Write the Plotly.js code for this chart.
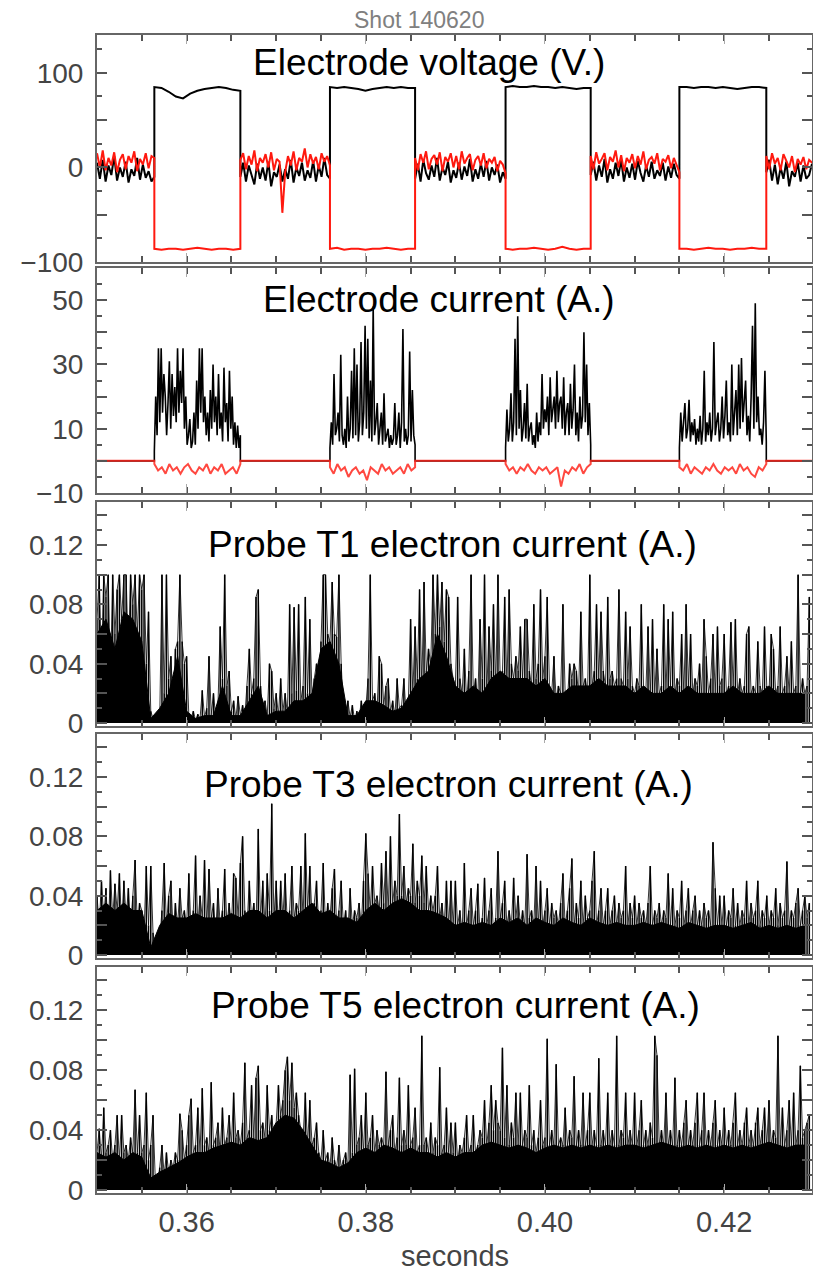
<!DOCTYPE html>
<html><head><meta charset="utf-8">
<script src="https://cdn.plot.ly/plotly-3.0.1.min.js"></script>
<style>html,body{margin:0;padding:0;background:#fff}</style>
</head><body><div id="chart" style="width:813px;height:1271px"></div>
<script>
// ---------- DATA ----------
const tStart = 0.35, tEnd = 0.4298;
const pulseStart = [0.3564, 0.3760, 0.3956, 0.4150];
const pulseEnd   = [0.3660, 0.3855, 0.4051, 0.4247];

// Panel 1: electrode voltage (V) — noise between pulses, levels during pulses
const voltBlackOff = [
 [5,-12,8,-15,2,-8,12,-14,0,-10,6,-16,-2,-9,10,-13,3,-11,-4,-15,-10],
 [-10,5,-15,2,-8,-18,4,-12,0,-14,6,-20,-5,-10,3,-15,-2,-12,8,-16,0,-9,5,-14,-3,-11,7,-15,2,-10,10,-8,-12],
 [-12,4,-15,8,-6,-13,2,-10,10,-14,0,-8,6,-16,-3,-11,5,-13,1,-9,9,-15,-2,-12,4,-10,7,-14,0,-8,3,-16,-5,-12],
 [-8,6,-14,2,-10,9,-16,-2,-12,5,-9,8,-15,0,-11,4,-13,7,-6,-15,2,-10,6,-12,-3,-9,5,-14,1,-11,4,-8,-12],
 [-5,8,-14,3,-18,0,-12,6,-20,-4,-10,5,-15,2,-12,-8,4]
];
const voltRedOff = [
 [15,0,18,-3,10,2,16,-5,8,14,-2,12,5,17,-4,9,3,15,-1,12,10],
 [8,15,-2,12,3,18,-4,10,5,14,0,16,-3,9,6,-48,-5,12,2,17,-3,10,6,20,0,14,4,11,-2,15,6,12,2],
 [10,-3,14,5,17,-2,9,13,3,16,-4,11,6,15,0,12,-2,17,4,10,14,-3,8,12,2,15,-1,9,5,11,-4,7,3,-6],
 [12,-2,16,4,9,15,-3,11,6,18,0,13,-4,10,5,14,-1,12,3,17,-2,8,11,4,15,-3,9,6,13,-1,10,2,-5],
 [12,-2,15,4,10,-3,14,6,0,12,-5,9,3,11,-2,8,5]
];
const voltBlackOn = [
 [85,84,80,75,73,78,81,83,84,85,84,82,81],
 [85,84,85,84,83,81,83,84,85,84,85,84,84],
 [85,86,85,85,86,85,85,84,85,84,83,84,84],
 [85,85,84,85,85,84,85,84,83,84,85,85,84]
];
const voltRedOn = [
 [-86,-87,-86,-86,-87,-86,-85,-86,-87,-86,-86,-87,-86],
 [-86,-85,-87,-86,-86,-87,-86,-86,-85,-86,-87,-86,-86],
 [-86,-87,-86,-86,-85,-86,-87,-86,-84,-86,-87,-86,-86],
 [-86,-86,-87,-86,-85,-86,-86,-87,-86,-86,-85,-86,-86]
];

// Panel 2: electrode current (A) during pulses; 0 outside
const currentOff = 0;
const curBlack = [
 [3,20,8,35,12,35,15,27,20,8,18,31,10,27,14,23,12,35,15,28,18,35,10,20,5,8,13,4,6,15,5,25,10,35,15,35,12,20,8,15,6,22,10,30,12,20,8,27,10,15,6,29,12,18,6,28,10,20,5,12,4,11,4,8],
 [4,12,5,27,8,10,15,6,33,8,5,10,4,20,6,10,28,7,35,8,30,6,12,37,8,15,42,10,38,7,25,6,48,8,12,18,5,10,15,5,21,6,8,10,4,8,5,7,18,5,8,15,4,12,41,6,10,5,8,34,6,22,8,5],
 [4,16,6,10,21,6,12,38,8,45,10,22,6,10,18,7,24,6,10,12,5,8,4,15,6,12,8,27,10,16,12,20,8,26,12,16,20,10,28,12,18,20,10,26,8,15,18,8,24,10,16,30,8,15,6,20,10,14,40,12,30,8,18,5],
 [4,15,6,12,18,7,10,19,6,12,8,13,5,10,6,14,5,10,28,6,12,8,15,6,10,37,8,12,15,6,10,20,7,14,25,8,12,6,30,8,14,22,8,30,10,32,12,18,25,8,14,6,20,42,10,49,12,20,8,10,5,12,28,6]
];
const curRed = [
 [-1,-3,-2,-4,-1,-3,-2,-4,-2,-1,-3,-4,-2,-3,-1,-4,-2,-3,-1,-4,-3,-2,-4,-1],
 [-2,-4,-1,-3,-2,-5,-3,-2,-4,-3,-6,-2,-3,-4,-1,-3,-2,-4,-3,-2,-4,-1,-3,-2],
 [-1,-3,-2,-4,-2,-3,-1,-3,-4,-2,-3,-2,-4,-3,-2,-8,-3,-4,-2,-3,-1,-4,-2,-1],
 [-2,-3,-1,-4,-2,-3,-4,-2,-3,-1,-3,-4,-2,-3,-2,-4,-1,-3,-2,-4,-5,-2,-3,-1]
];

// Probe electron currents (mA), sampled every 0.25 ms from 0.350 s
const probeDt = 0.00025;
const t1mA = [70,100,40,100,85,100,30,100,60,90, 100,70,100,100,45,100,80,100,60,100, 90,100,40,75,8,3,2,5,3,100, 20,100,30,45,10,50,55,100,55,40,
 45,5,3,8,2,6,3,22,4,10, 45,6,20,4,12,65,30,100,25,35, 8,15,3,18,5,12,4,25,50,20, 30,85,90,25,8,15,5,40,35,10,
 20,5,30,8,20,6,80,20,78,22, 80,15,25,85,20,70,18,30,40,25, 55,100,100,60,55,95,60,58,100,40, 10,3,15,4,12,2,8,3,15,5,
 10,30,100,15,20,8,45,40,12,25, 30,8,15,5,30,10,12,30,6,15, 70,20,65,30,90,25,95,35,50,40, 100,60,100,65,95,55,90,85,40,30,
 25,85,30,20,50,15,35,100,20,30, 15,70,30,100,20,65,35,80,25,100, 30,35,85,25,90,40,30,45,35,65, 30,70,70,35,25,80,30,40,90,30,
 45,85,25,20,45,15,25,20,80,20, 15,40,30,40,35,20,75,25,30,20, 100,25,35,80,30,75,35,25,85,30, 35,25,30,90,30,25,75,30,65,25,
 20,30,25,80,25,20,65,20,70,20, 50,20,25,80,20,70,25,75,20,30, 25,60,20,80,25,60,20,30,25,40, 20,70,45,20,30,60,20,65,25,30,
 60,20,25,68,25,70,20,30,20,25, 60,65,20,25,20,55,25,20,65,25, 20,60,50,20,25,65,20,25,45,20, 55,20,25,100,20,30,20,25,85];
const t3mA = [40,20,50,25,45,15,57,25,48,30, 55,20,50,25,45,20,40,64,20,35, 30,15,60,20,60,15,5,2,10,30, 62,20,40,50,15,35,20,45,25,30,
 20,55,15,30,67,20,40,25,64,20, 58,25,35,15,45,20,30,58,20,35, 20,55,52,25,62,80,30,20,50,25, 35,20,85,25,50,20,55,30,102,25,
 50,20,50,25,55,20,30,60,25,35, 30,60,25,82,30,60,25,35,50,20, 30,62,20,35,25,45,58,20,30,50, 20,30,15,45,20,30,25,35,20,50,
 82,55,30,60,35,40,30,62,35,70, 30,80,35,50,40,95,40,60,35,45, 40,75,35,50,40,67,35,60,30,40, 30,40,60,25,35,20,50,20,50,20,
 50,20,30,15,62,20,30,45,20,30, 48,15,25,52,20,30,45,15,25,70, 25,35,50,20,30,20,52,25,40,20, 30,20,68,25,30,20,60,20,50,20,
 30,45,20,35,25,30,20,35,55,20, 30,45,65,20,35,25,50,20,40,25, 30,50,70,20,30,45,20,30,45,20, 30,40,20,35,25,30,60,20,35,25,
 40,20,35,25,30,20,35,60,20,30, 25,35,20,30,25,55,20,45,20,30, 25,50,20,30,45,20,30,40,20,30, 20,35,25,30,20,76,45,20,40,20,
 40,20,30,25,45,20,35,20,30,25, 50,20,35,25,30,50,20,30,25,40, 20,30,25,45,20,35,25,30,63,20, 30,25,35,45,20,30,40,25,35];
const t5mA = [25,41,20,55,25,30,40,20,30,50, 20,50,25,30,20,35,25,67,25,50, 25,30,65,20,30,50,8,5,15,30, 10,25,12,20,15,25,20,51,40,20,
 30,50,61,25,30,55,25,68,30,35, 25,72,30,35,45,25,55,30,35,50, 30,65,35,40,30,45,85,35,40,70, 35,75,83,40,45,35,70,40,50,35,
 45,70,50,60,80,89,60,85,55,65, 50,40,35,65,30,60,30,35,45,25, 20,40,20,25,15,35,20,15,30,15, 20,25,15,77,25,81,30,35,50,25,
 65,30,35,50,25,40,30,35,30,79, 30,40,50,25,35,75,30,40,30,70, 30,35,55,25,30,103,30,35,25,45, 25,35,30,82,25,30,55,25,45,25,
 45,20,30,25,35,50,25,30,50,25, 30,40,35,60,30,45,70,40,60,45, 40,95,35,70,30,45,35,65,30,65, 30,40,35,70,30,40,25,35,60,30,
 35,101,30,40,30,84,30,35,30,55, 30,40,35,76,30,40,30,65,30,40, 65,30,40,30,88,30,40,30,65,30, 40,30,103,30,40,35,65,30,40,30,
 65,30,40,60,30,40,30,45,35,103, 90,30,40,30,65,30,40,30,75,30, 40,30,45,60,30,40,30,45,65,30, 40,65,30,40,30,45,60,30,40,30,
 55,30,40,30,45,65,30,40,30,45, 55,30,40,30,45,55,30,40,55,30, 60,30,40,35,103,30,55,30,40,60, 30,65,30,40,83,35,40,45,50];
// dense low-level band of each probe (mA), every 1 ms from 0.350 s
const bodyDt = 0.001;
const t1Body = [60,70,50,75,70,55,3,10,20,45, 8,3,5,5,25,5,5,15,25,5, 8,8,15,15,20,50,55,40,5,5, 15,15,12,8,10,20,30,35,60,45,
 25,20,25,20,30,35,30,30,30,25, 30,20,20,25,25,25,30,25,25,25, 20,25,20,20,25,20,25,20,20,20, 20,25,20,20,20,25,20,20,20,20];
const t3Body = [30,35,30,35,30,30,5,20,28,25, 25,28,25,25,25,28,25,30,30,25, 30,30,25,30,35,28,30,25,25,22, 30,35,30,35,38,35,30,30,28,25,
 20,22,20,22,20,25,22,25,20,25, 22,20,25,22,20,25,22,20,22,20, 20,22,20,22,20,18,22,20,18,20, 20,18,20,22,18,20,18,20,18,20];
const t5Body = [25,22,25,20,25,22,8,12,15,18, 22,25,25,28,30,32,30,35,33,35, 45,50,48,40,30,20,18,15,18,25, 28,25,30,28,25,28,25,25,22,25,
 22,25,25,30,32,30,28,30,28,25, 28,30,28,30,28,30,28,30,28,30, 30,28,30,32,30,28,30,28,30,28, 30,28,30,28,30,32,30,28,30,30];

const xTickVals = [0.36, 0.38, 0.40, 0.42];
const xTickText = ['0.36', '0.38', '0.40', '0.42'];
const titles = ['Electrode voltage (V.)', 'Electrode current (A.)', 'Probe T1 electron current (A.)',
                'Probe T3 electron current (A.)', 'Probe T5 electron current (A.)'];

// ---------- BUILD ----------
function lin(a, b, n){ const o=[]; for(let i=0;i<n;i++) o.push(n===1?a:a+(b-a)*i/(n-1)); return o; }
function voltTrace(off, on){
  const x=[], y=[];
  for(let j=0;j<5;j++){
    const s = j===0 ? tStart : pulseEnd[j-1], e = j===4 ? tEnd : pulseStart[j];
    x.push(...lin(s,e,off[j].length)); y.push(...off[j]);
    if(j<4){ x.push(...lin(pulseStart[j],pulseEnd[j],on[j].length)); y.push(...on[j]); }
  }
  return {x,y};
}
function curTrace(pulses){
  const x=[tStart], y=[currentOff];
  for(let j=0;j<4;j++){
    x.push(pulseStart[j]); y.push(currentOff);
    x.push(...lin(pulseStart[j],pulseEnd[j],pulses[j].length)); y.push(...pulses[j]);
    x.push(pulseEnd[j]); y.push(currentOff);
  }
  x.push(tEnd); y.push(currentOff);
  return {x,y};
}
function probe(arr, dt){ return {x: arr.map((v,i)=>tStart+i*dt), y: arr.map(v=>v/1000)}; }

const RED = 'rgb(255,25,15)';
const traces = [];
const vb = voltTrace(voltBlackOff, voltBlackOn), vr = voltTrace(voltRedOff, voltRedOn);
traces.push({type:'scatter',mode:'lines',x:vb.x,y:vb.y,xaxis:'x',yaxis:'y',line:{color:'#000',width:2}});
traces.push({type:'scatter',mode:'lines',x:vr.x,y:vr.y,xaxis:'x',yaxis:'y',line:{color:RED,width:2}});
const cb = curTrace(curBlack), cr = curTrace(curRed);
traces.push({type:'scatter',mode:'lines',x:cb.x,y:cb.y,xaxis:'x2',yaxis:'y2',line:{color:'#000',width:1.6}});
traces.push({type:'scatter',mode:'lines',x:cr.x,y:cr.y,xaxis:'x2',yaxis:'y2',line:{color:'rgba(255,40,30,0.85)',width:2}});
[[t1Body,t1mA,'3'],[t3Body,t3mA,'4'],[t5Body,t5mA,'5']].forEach(([b,s,k])=>{
  const pb = probe(b, bodyDt), ps = probe(s, probeDt);
  traces.push({type:'scatter',mode:'lines',x:pb.x,y:pb.y,xaxis:'x'+k,yaxis:'y'+k,fill:'tozeroy',fillcolor:'#000',line:{color:'#000',width:1}});
  traces.push({type:'bar',x:ps.x,y:ps.y,xaxis:'x'+k,yaxis:'y'+k,width:probeDt*0.68,
    marker:{color:'#000',line:{width:0}}});
  traces.push({type:'scatter',mode:'lines',x:ps.x,y:ps.y,xaxis:'x'+k,yaxis:'y'+k,line:{color:'#000',width:0.8}});
});

// ---------- LAYOUT ----------
const W=813, H=1271;
const panels = [[35,262],[268,493],[502,726],[734,958],[967,1193]];
const dom = p => [1-p[1]/H, 1-p[0]/H];
const tickFont = {family:'Liberation Sans, Arial, sans-serif', size:28, color:'#444'};
function yax(i, range, tv, tt, mdt){
  return {domain:dom(panels[i]), range, anchor: i===0?'x':'x'+(i+1), tickmode:'array', tickvals:tv, ticktext:tt,
    ticks:'inside', ticklen:10, tickwidth:2, tickcolor:'#555', showline:true, linecolor:'#666', linewidth:2,
    mirror:'ticks', showgrid:false, zeroline:false, tickfont:tickFont, ticklabelstandoff:6,
    minor:{tick0:0, dtick:mdt, ticks:'inside', ticklen:5, tickwidth:2, tickcolor:'#555', showgrid:false}, fixedrange:true};
}
function xax(i){
  return {domain:[97/W, 812/W], range:[tStart,tEnd], anchor: i===0?'y':'y'+(i+1), tickmode:'array',
    tickvals:xTickVals, ticktext:xTickText, showticklabels: i===4, ticks:'inside', ticklen:9, tickwidth:1,
    tickcolor:'#aaa', showline:true, linecolor:'#666', linewidth:2, mirror:'ticks', showgrid:false, zeroline:false,
    tickfont:{family:'Liberation Sans, Arial, sans-serif', size:29, color:'#444'}, ticklabelstandoff:2,
    minor:{tick0:0.35, dtick:0.005, ticks:'inside', ticklen:6, tickwidth:2, tickcolor:'#555', showgrid:false}, fixedrange:true};
}
const probeTicks = [0,0.02,0.04,0.06,0.08,0.10,0.12,0.14];
const probeText = ['0','','0.04','','0.08','','0.12',''];
const layout = {
  width:W, height:H, margin:{l:0,r:0,t:0,b:0}, paper_bgcolor:'#fff', plot_bgcolor:'#fff', showlegend:false,
  barmode:'overlay',
  xaxis:xax(0), xaxis2:xax(1), xaxis3:xax(2), xaxis4:xax(3), xaxis5:xax(4),
  yaxis:yax(0,[-100,140],[-100,-50,0,50,100],['\u2212100','','0','','100'],25),
  yaxis2:yax(1,[-10,60],[-10,0,10,20,30,40,50],['\u221210','','10','','30','','50'],5),
  yaxis3:yax(2,[-0.002,0.149],probeTicks,probeText,0.01),
  yaxis4:yax(3,[-0.002,0.149],probeTicks,probeText,0.01),
  yaxis5:yax(4,[-0.002,0.149],probeTicks,probeText,0.01),
  annotations: []
};
const titlePos = [[429,63],[439,299],[452,544],[449,784],[455,1005]];
titles.forEach((t,i)=>layout.annotations.push({text:t, xref:'paper', yref:'paper', x:titlePos[i][0]/W, y:1-titlePos[i][1]/H,
  xanchor:'center', yanchor:'middle', showarrow:false, font:{family:'Liberation Sans, Arial, sans-serif', size:37, color:'#000'}}));
layout.annotations.push({text:'Shot 140620', xref:'paper', yref:'paper', x:419/W, y:1-20/H, xanchor:'center', yanchor:'middle',
  showarrow:false, font:{family:'Liberation Sans, Arial, sans-serif', size:23, color:'#808080'}});
layout.annotations.push({text:'seconds', xref:'paper', yref:'paper', x:455/W, y:1-1256/H, xanchor:'center', yanchor:'middle',
  showarrow:false, font:{family:'Liberation Sans, Arial, sans-serif', size:29, color:'#444'}});

Plotly.newPlot('chart', traces, layout, {staticPlot:true, displayModeBar:false});
</script></body></html>
